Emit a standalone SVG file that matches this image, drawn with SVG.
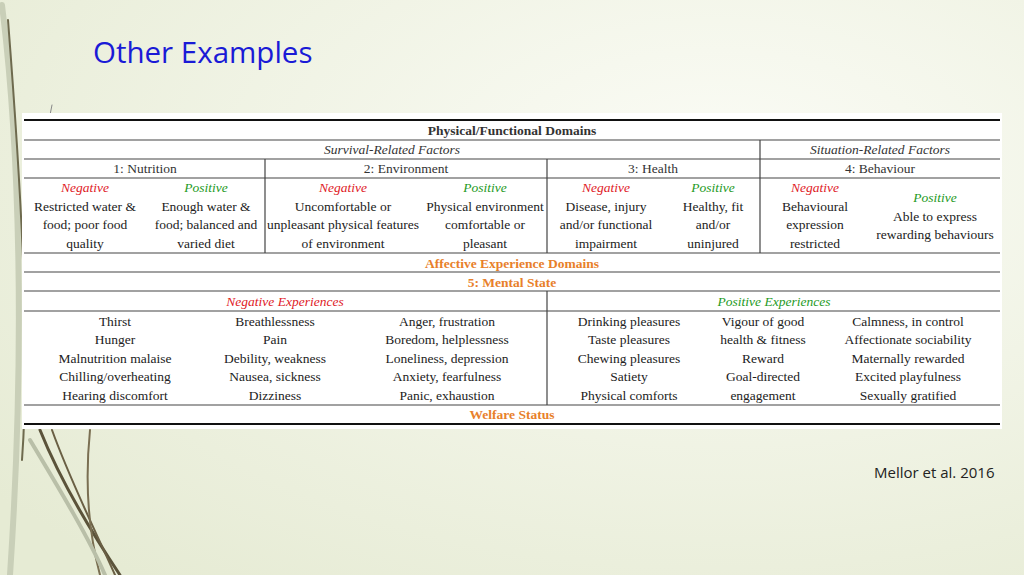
<svg xmlns="http://www.w3.org/2000/svg" width="1024" height="575" viewBox="0 0 1024 575">
<defs>
<radialGradient id="bg" cx="0.7" cy="0.3" r="0.9">
<stop offset="0" stop-color="#fbfcf6"/><stop offset="1" stop-color="#e6ebd4"/>
</radialGradient>
<style>
.t{font-family:"Liberation Serif",serif;font-size:13.5px;fill:#222;text-anchor:middle}
.h{font-family:"Liberation Serif",serif;font-size:13.5px;fill:#333;text-anchor:middle}
.i{font-style:italic}
.r{fill:#e0201f;font-style:italic}
.g{fill:#1e9a1e;font-style:italic}
.o{fill:#e8802a}
.l{stroke:#444;stroke-width:1.2}
.k{stroke:#111;stroke-width:2}
.gr{fill:none;stroke-linecap:round}
</style>
</defs>
<rect width="1024" height="575" fill="url(#bg)"/>
<g id="grass">
<path class="gr" d="M2 5 C 20 150, 25 350, 10 575" stroke="#c9cfb8" stroke-width="6"/>
<path class="gr" d="M8 20 C 22 200, 30 350, 22 460" stroke="#6e6a4e" stroke-width="2"/>
<path class="gr" d="M40 430 C 60 480, 90 530, 120 575" stroke="#5b533a" stroke-width="3"/>
<path class="gr" d="M52 430 C 70 480, 95 530, 115 575" stroke="#6a5f44" stroke-width="2"/>
<path class="gr" d="M90 430 C 85 480, 88 530, 100 575" stroke="#7a6f52" stroke-width="2"/>
<path class="gr" d="M30 440 C 60 490, 90 540, 105 575" stroke="#b9bfa8" stroke-width="4"/>
<path class="gr" d="M52 105 L 50 115" stroke="#888" stroke-width="1"/>
</g>
<text x="93" y="63" font-family="Open Sans, sans-serif" font-size="29.5" fill="#1a1ad6">Other Examples</text>
<text x="874" y="478" font-family="Open Sans, sans-serif" font-size="15" fill="#222">Mellor et al. 2016</text>
<g id="table">
<rect x="22" y="113" width="980" height="316" fill="#fff"/>
<g id="connectors">
<line class="k" x1="24" y1="120" x2="1000" y2="120"/>
<line class="l" x1="24" y1="140" x2="1000" y2="140"/>
<line class="l" x1="24" y1="159" x2="1000" y2="159"/>
<line class="l" x1="24" y1="178" x2="1000" y2="178"/>
<line class="l" x1="24" y1="253" x2="1000" y2="253"/>
<line class="l" x1="24" y1="272" x2="1000" y2="272"/>
<line class="l" x1="24" y1="291" x2="1000" y2="291"/>
<line class="l" x1="24" y1="311" x2="1000" y2="311"/>
<line class="l" x1="24" y1="405" x2="1000" y2="405"/>
<line class="k" x1="24" y1="424" x2="1000" y2="424"/>
<line class="l" x1="265" y1="159" x2="265" y2="253"/>
<line class="l" x1="547" y1="159" x2="547" y2="253"/>
<line class="l" x1="760" y1="140" x2="760" y2="253"/>
<line class="l" x1="547" y1="291" x2="547" y2="405"/>
</g>
<g id="headers">
<text class="h" x="512" y="135" font-weight="bold">Physical/Functional Domains</text>
<text class="h i" x="392" y="154">Survival-Related Factors</text>
<text class="h i" x="880" y="154">Situation-Related Factors</text>
<text class="h" x="145" y="173">1: Nutrition</text>
<text class="h" x="406" y="173">2: Environment</text>
<text class="h" x="653" y="173">3: Health</text>
<text class="h" x="880" y="173">4: Behaviour</text>
</g>
<g id="nutrition">
<text class="t r" x="85" y="192">Negative</text>
<text class="t" x="85" y="211">Restricted water &amp;</text>
<text class="t" x="85" y="229">food; poor food</text>
<text class="t" x="85" y="248">quality</text>
<text class="t g" x="206" y="192">Positive</text>
<text class="t" x="206" y="211">Enough water &amp;</text>
<text class="t" x="206" y="229">food; balanced and</text>
<text class="t" x="206" y="248">varied diet</text>
</g>
<g id="environment">
<text class="t r" x="343" y="192">Negative</text>
<text class="t" x="343" y="211">Uncomfortable or</text>
<text class="t" x="343" y="229">unpleasant physical features</text>
<text class="t" x="343" y="248">of environment</text>
<text class="t g" x="485" y="192">Positive</text>
<text class="t" x="485" y="211">Physical environment</text>
<text class="t" x="485" y="229">comfortable or</text>
<text class="t" x="485" y="248">pleasant</text>
</g>
<g id="health">
<text class="t r" x="606" y="192">Negative</text>
<text class="t" x="606" y="211">Disease, injury</text>
<text class="t" x="606" y="229">and/or functional</text>
<text class="t" x="606" y="248">impairment</text>
<text class="t g" x="713" y="192">Positive</text>
<text class="t" x="713" y="211">Healthy, fit</text>
<text class="t" x="713" y="229">and/or</text>
<text class="t" x="713" y="248">uninjured</text>
</g>
<g id="behaviour">
<text class="t r" x="815" y="192">Negative</text>
<text class="t" x="815" y="211">Behavioural</text>
<text class="t" x="815" y="229">expression</text>
<text class="t" x="815" y="248">restricted</text>
<text class="t g" x="935" y="202">Positive</text>
<text class="t" x="935" y="221">Able to express</text>
<text class="t" x="935" y="239">rewarding behaviours</text>
</g>
<g id="affective">
<text class="t o" x="512" y="268" font-weight="bold">Affective Experience Domains</text>
<text class="t o" x="512" y="287" font-weight="bold">5: Mental State</text>
</g>
<g id="negative-exp">
<text class="t r" x="285" y="306">Negative Experiences</text>
<text class="t" x="115" y="326">Thirst</text>
<text class="t" x="115" y="344">Hunger</text>
<text class="t" x="115" y="363">Malnutrition malaise</text>
<text class="t" x="115" y="381">Chilling/overheating</text>
<text class="t" x="115" y="400">Hearing discomfort</text>
<text class="t" x="275" y="326">Breathlessness</text>
<text class="t" x="275" y="344">Pain</text>
<text class="t" x="275" y="363">Debility, weakness</text>
<text class="t" x="275" y="381">Nausea, sickness</text>
<text class="t" x="275" y="400">Dizziness</text>
<text class="t" x="447" y="326">Anger, frustration</text>
<text class="t" x="447" y="344">Boredom, helplessness</text>
<text class="t" x="447" y="363">Loneliness, depression</text>
<text class="t" x="447" y="381">Anxiety, fearfulness</text>
<text class="t" x="447" y="400">Panic, exhaustion</text>
</g>
<g id="positive-exp">
<text class="t g" x="774" y="306">Positive Experiences</text>
<text class="t" x="629" y="326">Drinking pleasures</text>
<text class="t" x="629" y="344">Taste pleasures</text>
<text class="t" x="629" y="363">Chewing pleasures</text>
<text class="t" x="629" y="381">Satiety</text>
<text class="t" x="629" y="400">Physical comforts</text>
<text class="t" x="763" y="326">Vigour of good</text>
<text class="t" x="763" y="344">health &amp; fitness</text>
<text class="t" x="763" y="363">Reward</text>
<text class="t" x="763" y="381">Goal-directed</text>
<text class="t" x="763" y="400">engagement</text>
<text class="t" x="908" y="326">Calmness, in control</text>
<text class="t" x="908" y="344">Affectionate sociability</text>
<text class="t" x="908" y="363">Maternally rewarded</text>
<text class="t" x="908" y="381">Excited playfulness</text>
<text class="t" x="908" y="400">Sexually gratified</text>
</g>
<g id="welfare">
<text class="t o" x="512" y="419" font-weight="bold">Welfare Status</text>
</g>
</g>
</svg>
